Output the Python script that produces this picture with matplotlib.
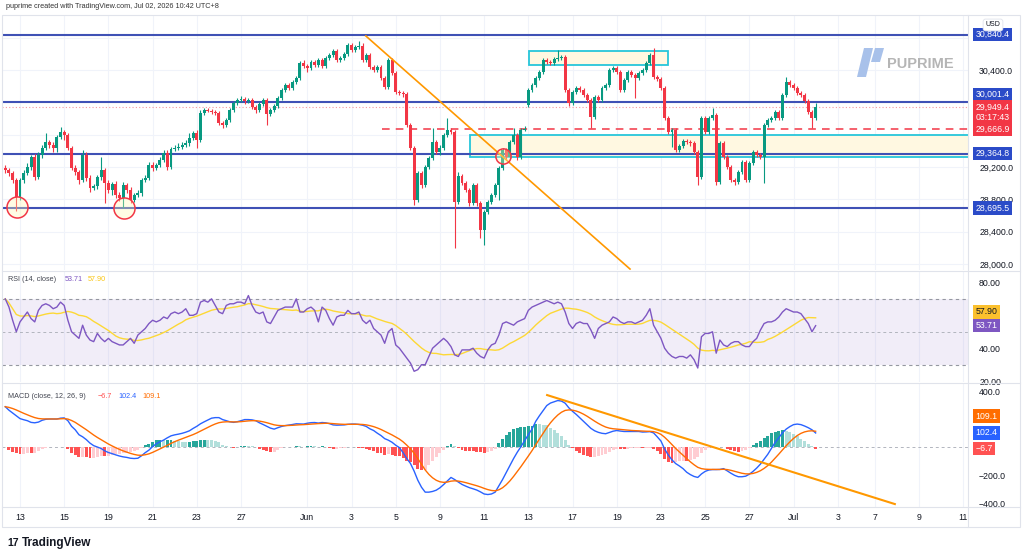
import numpy as np
import pandas as pd
import matplotlib
matplotlib.use("Agg")
import matplotlib.pyplot as plt
from matplotlib.patches import Rectangle, Polygon
from matplotlib.lines import Line2D
from matplotlib.transforms import blended_transform_factory

plt.rcParams['font.family'] = ['Liberation Sans', 'DejaVu Sans']

# ---------------- data (4h bars) ----------------
closes = [29163, 29126, 29040, 28829, 29040, 29126, 29200, 29324, 29077, 29349,
          29436, 29510, 29473, 29436, 29572, 29634, 29597, 29436, 29188, 29139,
          29040, 29349, 29064, 28941, 28965, 29077, 29163, 29002, 28916, 28990,
          28854, 28817, 28978, 28916, 28792, 28854, 28879, 29040, 29064, 29225,
          29188, 29225, 29287, 29374, 29200, 29423, 29436, 29448, 29473, 29498,
          29559, 29621, 29535, 29869, 29906, 29894, 29881, 29869, 29745, 29720,
          29782, 29906, 29993, 30030, 30042, 30017, 30030, 29943, 29906, 29980,
          30030, 29856, 29906, 29955, 30054, 30153, 30215, 30178, 30252, 30302,
          30488, 30450, 30426, 30500, 30463, 30525, 30450, 30549, 30587, 30636,
          30525, 30549, 30599, 30710, 30649, 30686, 30698, 30525, 30587, 30438,
          30401, 30438, 30302, 30191, 30525, 30364, 30129, 30116, 30104, 29720,
          29436, 28792, 29126, 28978, 29200, 29312, 29510, 29386, 29436, 29597,
          29658, 29634, 28767, 29089, 29002, 28916, 28755, 28978, 28755, 28421,
          28644, 28767, 28854, 28978, 29188, 29411, 29324, 29510, 29597, 29324,
          29658, 29671, 30153, 30215, 30302, 30376, 30525, 30500, 30488, 30537,
          30549, 30562, 30153, 29993, 30129, 30178, 30153, 30092, 30030, 29819,
          30067, 30030, 30178, 30215, 30401, 30426, 30376, 30153, 30277, 30376,
          30339, 30302, 30364, 30401, 30488, 30587, 30314, 30290, 30178, 29807,
          29634, 29658, 29411, 29460, 29522, 29510, 29498, 29386, 29077, 29807,
          29634, 29807, 29844, 29015, 29498, 29324, 29200, 29040, 29015, 29139,
          29262, 29040, 29250, 29386, 29349, 29324, 29720, 29782, 29807, 29881,
          29807, 30092, 30252, 30215, 30178, 30116, 30092, 30017, 29881, 29807,
          29949.4]

highs = [29225, 29188, 29151, 29064, 29064, 29163, 29250, 29349, 29361, 29386,
         29473, 29621, 29535, 29510, 29597, 29696, 29658, 29621, 29460, 29225,
         29163, 29411, 29386, 29101, 28990, 29101, 29324, 29188, 29040, 29015,
         29027, 28891, 29015, 29002, 28953, 28879, 28916, 29064, 29101, 29262,
         29262, 29250, 29324, 29411, 29411, 29448, 29473, 29498, 29510, 29535,
         29621, 29646, 29658, 29906, 29931, 29931, 29918, 29906, 29894, 29770,
         29807, 29931, 30017, 30054, 30079, 30067, 30054, 30054, 29968, 30005,
         30054, 30054, 29931, 29980, 30079, 30178, 30240, 30240, 30277, 30327,
         30512, 30525, 30475, 30525, 30525, 30549, 30549, 30574, 30611, 30661,
         30661, 30574, 30624, 30735, 30735, 30710, 30760, 30735, 30611, 30611,
         30463, 30463, 30463, 30327, 30549, 30549, 30389, 30153, 30141, 30129,
         29745, 29460, 29151, 29151, 29225, 29337, 29683, 29535, 29473, 29621,
         29807, 29683, 29658, 29139, 29114, 29027, 28941, 29002, 29002, 28780,
         28668, 28792, 28879, 29002, 29213, 29436, 29436, 29535, 29683, 29621,
         29683, 29708, 30178, 30240, 30327, 30401, 30549, 30549, 30525, 30562,
         30649, 30587, 30587, 30178, 30153, 30203, 30203, 30178, 30116, 30054,
         30092, 30092, 30203, 30240, 30426, 30450, 30450, 30401, 30302, 30401,
         30401, 30364, 30389, 30426, 30512, 30611, 30673, 30339, 30314, 30203,
         29832, 29683, 29683, 29485, 29547, 29547, 29535, 29522, 29411, 29832,
         29832, 29832, 29931, 29869, 29522, 29522, 29349, 29225, 29064, 29163,
         29287, 29287, 29275, 29411, 29411, 29374, 29745, 29807, 29832, 29906,
         29906, 30116, 30314, 30277, 30240, 30203, 30141, 30116, 30042, 29906,
         29993]

lows = [29126, 29089, 29002, 28656, 28792, 29002, 29101, 29163, 29040, 29052,
        29312, 29411, 29436, 29386, 29386, 29547, 29535, 29411, 29163, 29101,
        28990, 29015, 29027, 28891, 28916, 28928, 29040, 28755, 28879, 28854,
        28817, 28780, 28693, 28879, 28755, 28767, 28829, 28842, 29015, 29040,
        29151, 29163, 29200, 29262, 29163, 29176, 29398, 29411, 29423, 29448,
        29460, 29535, 29436, 29510, 29844, 29881, 29856, 29844, 29720, 29683,
        29696, 29758, 29881, 29968, 30005, 29980, 29993, 29918, 29869, 29881,
        29955, 29720, 29832, 29881, 29931, 30030, 30129, 30153, 30153, 30228,
        30277, 30426, 30376, 30401, 30438, 30438, 30426, 30426, 30525, 30562,
        30500, 30500, 30525, 30574, 30624, 30624, 30661, 30500, 30500, 30413,
        30376, 30376, 30277, 30166, 30166, 30339, 30104, 30092, 30067, 29696,
        29411, 28730, 28767, 28941, 28953, 29176, 29287, 29361, 29349, 29411,
        29572, 29609, 28198, 28742, 28978, 28891, 28718, 28730, 28718, 28322,
        28235, 28619, 28742, 28829, 28792, 29163, 29287, 29299, 29485, 29287,
        29299, 29646, 29943, 30129, 30191, 30277, 30351, 30475, 30463, 30463,
        30512, 30525, 30129, 29955, 29968, 30104, 30129, 30067, 30005, 29683,
        29795, 30005, 30005, 30153, 30191, 30376, 30351, 30129, 30129, 30252,
        30314, 30054, 30277, 30339, 30376, 30463, 30290, 30265, 30153, 29782,
        29609, 29448, 29386, 29386, 29436, 29485, 29460, 29361, 28978, 29052,
        29609, 29609, 29782, 28978, 28990, 29299, 29176, 29015, 28978, 28990,
        29114, 29015, 29015, 29225, 29324, 29299, 29002, 29696, 29758, 29782,
        29782, 29782, 30067, 30191, 30153, 30092, 30067, 29993, 29856, 29683,
        29782]

first_open = 29188
gap_opens = {142: 29968}

rsi_values = [70, 65, 57, 50, 56, 59, 62, 58, 56, 63,
              66, 67, 66, 64, 65, 68, 66, 57, 50, 48,
              46, 54, 48, 45, 44, 49, 46, 44, 46, 44,
              43, 42, 42, 44, 46, 43, 48, 50, 52, 55,
              57, 56, 57, 59, 58, 61, 62, 61, 62, 64,
              60, 60, 61, 68, 69, 68, 70, 66, 62, 61,
              66, 67, 67, 68, 68, 67, 72, 66, 62, 61,
              62, 56, 55, 59, 63, 64, 65, 65, 65, 70,
              62, 62, 64, 65, 63, 56, 65, 63, 58, 54,
              59, 60, 60, 63, 61, 61, 62, 57, 55, 57,
              52, 50, 48, 43, 50, 52, 42, 40, 37, 34,
              31, 26, 27, 30, 30, 35, 40, 42, 44, 46,
              44, 41, 36, 35, 39, 39, 39, 40, 37, 35,
              34, 39, 42, 43, 48, 55, 56, 55, 54, 56,
              57, 58, 63, 65, 66, 67, 68, 69, 68, 67,
              68, 67, 62, 55, 52, 55, 56, 55, 55, 51,
              46, 52, 54, 55, 56, 59, 58, 56, 55, 56,
              56, 55, 56, 57, 60, 64, 54, 50, 46, 40,
              37, 35, 34, 35, 35, 34, 36, 33, 28, 47,
              49, 49, 50, 37, 45, 42, 41, 43, 44, 44,
              42, 41, 41, 44, 46, 51, 55, 56, 56, 57,
              59, 62, 64, 63, 62, 62, 61, 58, 55, 50,
              53.71]

macd_values = [290, 265, 245, 225, 205, 197, 190, 178, 175, 180,
               193, 200, 202, 202, 202, 208, 210, 190, 150, 125,
               90, 75, 55, 30, 12, 2, -8, -25, -37, -45,
               -54, -62, -68, -72, -78, -80, -78, -60, -38, -20,
               5, 25, 40, 52, 68, 82, 89, 94, 100, 108,
               118, 135, 150, 168, 182, 195, 208, 212, 212, 198,
               190, 182, 178, 183, 190, 198, 198, 196, 190, 175,
               163, 150, 137, 130, 140, 149, 155, 159, 163, 168,
               167, 166, 172, 176, 177, 173, 177, 175, 169, 160,
               158, 159, 160, 164, 166, 166, 163, 158, 149, 132,
               120, 101, 84, 62, 51, 36, 15, -2, -38, -80,
               -115, -170, -235, -285, -320, -320, -315, -306, -289, -266,
               -240, -215, -230, -248, -265, -277, -288, -296, -305, -318,
               -333, -337, -333, -320, -275, -230, -180, -130, -80, -35,
               5, 48, 90, 130, 185, 225, 262, 298, 316, 325,
               334, 330, 315, 282, 257, 235, 210, 185, 160, 135,
               118, 107, 100, 97, 106, 115, 120, 116, 113, 113,
               113, 113, 113, 109, 110, 112, 103, 75, 45, -12,
               -55, -90, -116, -133, -152, -178, -195, -208, -215, -190,
               -172, -162, -159, -159, -158, -152, -168, -185, -200, -210,
               -210, -206, -192, -172, -148, -120, -85, -50, -7, 35,
               68, 104, 130, 148, 162, 166, 162, 152, 140, 125,
               102.4]

day_ticks = [4, 16, 28, 40, 52, 64, 82, 94, 106, 118, 130, 142, 154, 166,
             178, 190, 202, 214, 226, 236, 248, 260]
day_labels = ["13", "15", "19", "21", "23", "27", "Jun", "3", "5", "9", "11",
              "13", "17", "19", "23", "25", "27", "Jul", "3", "7", "9", "11"]

blue_levels = [30840.4, 30001.4, 29364.8, 28695.5]
last_price = 29949.4
red_level = 29666.9
countdown = "03:17:43"

# drawings (bar index, value)
trend_price = ([97.9, 169.6], [30822, 27938])
trend_macd = ([147.1, 241.5], [373, -405])
zone_lower = (126.1, 29320, 29597)
zone_upper = (142.2, 179.9, 30463, 30640)
circle_big = ([3.1, 32.2], [28700, 28690])
circle_small = ([135.0], [29337])
red_line_start = 102.3

rsi_tags = ("53.71", "57.90")
macd_tags = ("-6.7", "102.4", "109.1")

# ---------------- derived series ----------------
n = len(closes)
x = np.arange(n)
closes = np.array(closes, dtype=float)
opens = np.concatenate([[first_open], closes[:-1]])
for k, v in gap_opens.items():
    opens[k] = v
highs = np.maximum(np.array(highs, dtype=float), np.maximum(opens, closes))
lows = np.minimum(np.array(lows, dtype=float), np.minimum(opens, closes))

rsi = pd.Series(rsi_values, dtype=float)
rsi_ma = rsi.rolling(14, min_periods=1).mean()
macd = pd.Series(macd_values, dtype=float)
signal = macd.ewm(span=9, adjust=False).mean()
hist = macd - signal

UP, DOWN = "#089981", "#f23645"
GRID = "#f0f3fa"
TXT = "#131722"

# ---------------- figure ----------------
fig = plt.figure(figsize=(10.24, 5.58), dpi=100)
W, H = 1024, 558
L, R = 2 / W, 968 / W


def fy(y):
    return 1 - y / H


ax_p = fig.add_axes([L, fy(270), R - L, fy(15) - fy(270)])
ax_r = fig.add_axes([L, fy(382), R - L, fy(272) - fy(382)], sharex=ax_p)
ax_m = fig.add_axes([L, fy(507), R - L, fy(384) - fy(507)], sharex=ax_p)

for ax in (ax_p, ax_r, ax_m):
    for s in ax.spines.values():
        s.set_visible(False)
    ax.yaxis.tick_right()
    ax.tick_params(axis="y", length=0, pad=8, labelsize=6.3, labelcolor=TXT)
    ax.tick_params(axis="x", length=0)
    for t in day_ticks:
        ax.axvline(t, color=GRID, lw=0.8, zorder=0)
ax_p.set_xlim(-0.886, 261.36)
plt.setp(ax_p.get_xticklabels(), visible=False)
plt.setp(ax_r.get_xticklabels(), visible=False)
ax_m.set_xticks(day_ticks)
ax_m.set_xticklabels(day_labels)
ax_m.tick_params(axis="x", pad=4, labelsize=6.3, labelcolor=TXT)

# ---------------- price pane ----------------
ax_p.set_ylim(27926, 31082)
for lv in np.arange(28000, 31000, 400):
    ax_p.axhline(lv, color=GRID, lw=0.8, zorder=0)
ax_p.set_yticks([28000, 28400, 28800, 29200, 30400])
ax_p.yaxis.set_major_formatter(plt.FuncFormatter(lambda v, p: f"{v:,.1f}"))

ax_p.add_patch(Rectangle((zone_lower[0], zone_lower[1]), 262 - zone_lower[0],
                         zone_lower[2] - zone_lower[1], facecolor="#fff8e1",
                         edgecolor="#26c6da", lw=1.3, zorder=1))
ax_p.add_patch(Rectangle((zone_upper[0], zone_upper[2]), zone_upper[1] - zone_upper[0],
                         zone_upper[3] - zone_upper[2], facecolor="#fff8e1",
                         edgecolor="#26c6da", lw=1.3, zorder=1))

for lv in blue_levels:
    ax_p.axhline(lv, color="#3f51b5", lw=1.5, zorder=2)
ax_p.axhline(last_price, color="#f7525f", lw=0.8, ls=(0, (1, 2)), alpha=0.6, zorder=2)
ax_p.hlines(red_level, red_line_start, 262, color="#f23645", lw=1.1,
            linestyles=(0, (5, 4)), zorder=2)

colors = np.where(closes >= opens, UP, DOWN)
ax_p.vlines(x, lows, highs, colors=colors, lw=0.8, zorder=3)
ax_p.bar(x, np.maximum(np.abs(closes - opens), 12), bottom=np.minimum(opens, closes),
         width=0.8, color=colors, lw=0, zorder=3)

ax_p.plot(trend_price[0], trend_price[1], color="#ff9800", lw=1.2, zorder=4)
ax_p.scatter(circle_big[0], circle_big[1], s=230, facecolors=(1, 0.97, 0.7, 0.35),
             edgecolors="#f23645", linewidths=1.1, zorder=4)
ax_p.scatter(circle_small[0], circle_small[1], s=120, facecolors=(1, 0.97, 0.7, 0.35),
             edgecolors="#f23645", linewidths=1.1, zorder=4)


def tag(ax, value, text, fc, tc="white", dy=0):
    tr = blended_transform_factory(ax.transAxes, ax.transData)
    ax.annotate(text, xy=(1.0, value), xycoords=tr, xytext=(5.5, dy),
                textcoords="offset points", ha="left", va="center",
                fontsize=6.3, color=tc, zorder=10, annotation_clip=False,
                bbox=dict(boxstyle="square,pad=0.25", fc=fc, ec="none"))


tag(ax_p, blue_levels[0], f"{blue_levels[0]:,.1f}", "#2b4bc8")
tag(ax_p, blue_levels[1], f"{blue_levels[1]:,.1f}", "#2b4bc8", dy=5.8)
tag(ax_p, last_price, f"{last_price:,.1f}\n{countdown}", DOWN, dy=-4.2)
tag(ax_p, red_level, f"{red_level:,.1f}", DOWN)
tag(ax_p, blue_levels[2], f"{blue_levels[2]:,.1f}", "#2b4bc8")
tag(ax_p, blue_levels[3], f"{blue_levels[3]:,.1f}", "#2b4bc8")

# ---------------- RSI pane ----------------
ax_r.set_ylim(19.5, 86.3)
ax_r.axhspan(30, 70, color="#7e57c2", alpha=0.1, lw=0, zorder=0)
ax_r.axhline(70, color="#9598a1", lw=0.8, ls=(0, (3, 3)), zorder=1)
ax_r.axhline(30, color="#9598a1", lw=0.8, ls=(0, (3, 3)), zorder=1)
ax_r.axhline(50, color="#b2b5be", lw=0.7, ls=(0, (3, 3)), zorder=1)
ax_r.plot(x, rsi_ma, color="#fdd835", lw=1.0, zorder=2)
ax_r.plot(x, rsi, color="#7e57c2", lw=1.0, zorder=3)
ax_r.set_yticks([20, 40, 80])
ax_r.yaxis.set_major_formatter(plt.FuncFormatter(lambda v, p: f"{v:.2f}"))
tag(ax_r, float(rsi_tags[0]), rsi_tags[0], "#7e57c2")
tag(ax_r, float(rsi_tags[1]), rsi_tags[1], "#fbc02d", tc=TXT, dy=5.0)
ax_r.text(0.006, 0.93, "RSI (14, close)", transform=ax_r.transAxes, fontsize=5.2,
          color="#434651", va="center")
ax_r.text(0.065, 0.93, rsi_tags[0], transform=ax_r.transAxes, fontsize=5.2,
          color="#7e57c2", va="center")
ax_r.text(0.089, 0.93, rsi_tags[1], transform=ax_r.transAxes, fontsize=5.2,
          color="#f9c513", va="center")

# ---------------- MACD pane ----------------
ax_m.set_ylim(-426, 452)
ax_m.axhline(0, color="#b2b5be", lw=0.7, ls=(0, (3, 3)), zorder=1)
prev = hist.shift(1).fillna(0)
hcol = np.where(hist >= 0, np.where(hist > prev, "#26a69a", "#b2dfdb"),
                np.where(hist < prev, "#ff5252", "#ffcdd2"))
ax_m.bar(x, hist, width=0.8, color=hcol, lw=0, zorder=2)
ax_m.plot(x, macd, color="#2962ff", lw=1.0, zorder=3)
ax_m.plot(x, signal, color="#ff6d00", lw=1.0, zorder=3)
ax_m.plot(trend_macd[0], trend_macd[1], color="#ff9800", lw=1.5, zorder=4)
ax_m.set_yticks([-400, -200, 400])
ax_m.yaxis.set_major_formatter(plt.FuncFormatter(
    lambda v, p: f"{v:.1f}".replace("-", "\u2212")))
tag(ax_m, float(macd_tags[0]), macd_tags[0].replace("-", "\u2212"), "#ff5252")
tag(ax_m, float(macd_tags[1]), macd_tags[1], "#2962ff")
tag(ax_m, float(macd_tags[2]), macd_tags[2], "#ff6d00", dy=11.5)
ax_m.text(0.006, 0.90, "MACD (close, 12, 26, 9)", transform=ax_m.transAxes,
          fontsize=5.2, color="#434651", va="center")
ax_m.text(0.099, 0.90, macd_tags[0].replace("-", "\u2212"), transform=ax_m.transAxes,
          fontsize=5.2, color="#ff5252", va="center")
ax_m.text(0.120, 0.90, macd_tags[1], transform=ax_m.transAxes, fontsize=5.2,
          color="#2962ff", va="center")
ax_m.text(0.145, 0.90, macd_tags[2], transform=ax_m.transAxes, fontsize=5.2,
          color="#ff6d00", va="center")

# ---------------- frame, header, logos ----------------
fig.add_artist(Rectangle((2 / W, fy(527)), 1018 / W, (527 - 15) / H, fill=False,
                         ec="#e0e3eb", lw=0.8, transform=fig.transFigure))
fig.add_artist(Line2D([968 / W, 968 / W], [fy(15), fy(527)], color="#e0e3eb", lw=0.8))
for yy in (271, 383, 507):
    fig.add_artist(Line2D([2 / W, 1020 / W], [fy(yy), fy(yy)], color="#e0e3eb", lw=0.8))

fig.text(6 / W, fy(7), "puprime created with TradingView.com, Jul 02, 2026 10:42 UTC+8",
         fontsize=5.2, color="#333333", va="center")
fig.text(993 / W, fy(25), "USD", fontsize=5, color=TXT, ha="center", va="center",
         bbox=dict(boxstyle="round,pad=0.35", fc="white", ec="#e0e3eb", lw=0.6))

fig.add_artist(Polygon([(857 / W, fy(77)), (866 / W, fy(77)), (873 / W, fy(48)),
                        (864 / W, fy(48))], closed=True, fc="#a8c1ea", ec="none",
                       transform=fig.transFigure))
fig.add_artist(Polygon([(875 / W, fy(48)), (884 / W, fy(48)), (880 / W, fy(62)),
                        (871 / W, fy(62))], closed=True, fc="#a8c1ea", ec="none",
                       transform=fig.transFigure))
fig.text(887 / W, fy(64), "PUPRIME", fontsize=10.5, weight="bold", color="#b5b5b5",
         va="center")

fig.text(7 / W, fy(543), "17", fontsize=7.5, weight="heavy", color=TXT, va="center")
fig.text(22 / W, fy(543), "TradingView", fontsize=8.5, weight="bold", color=TXT,
         va="center")

fig.savefig("out.png", dpi=100, facecolor="white")
